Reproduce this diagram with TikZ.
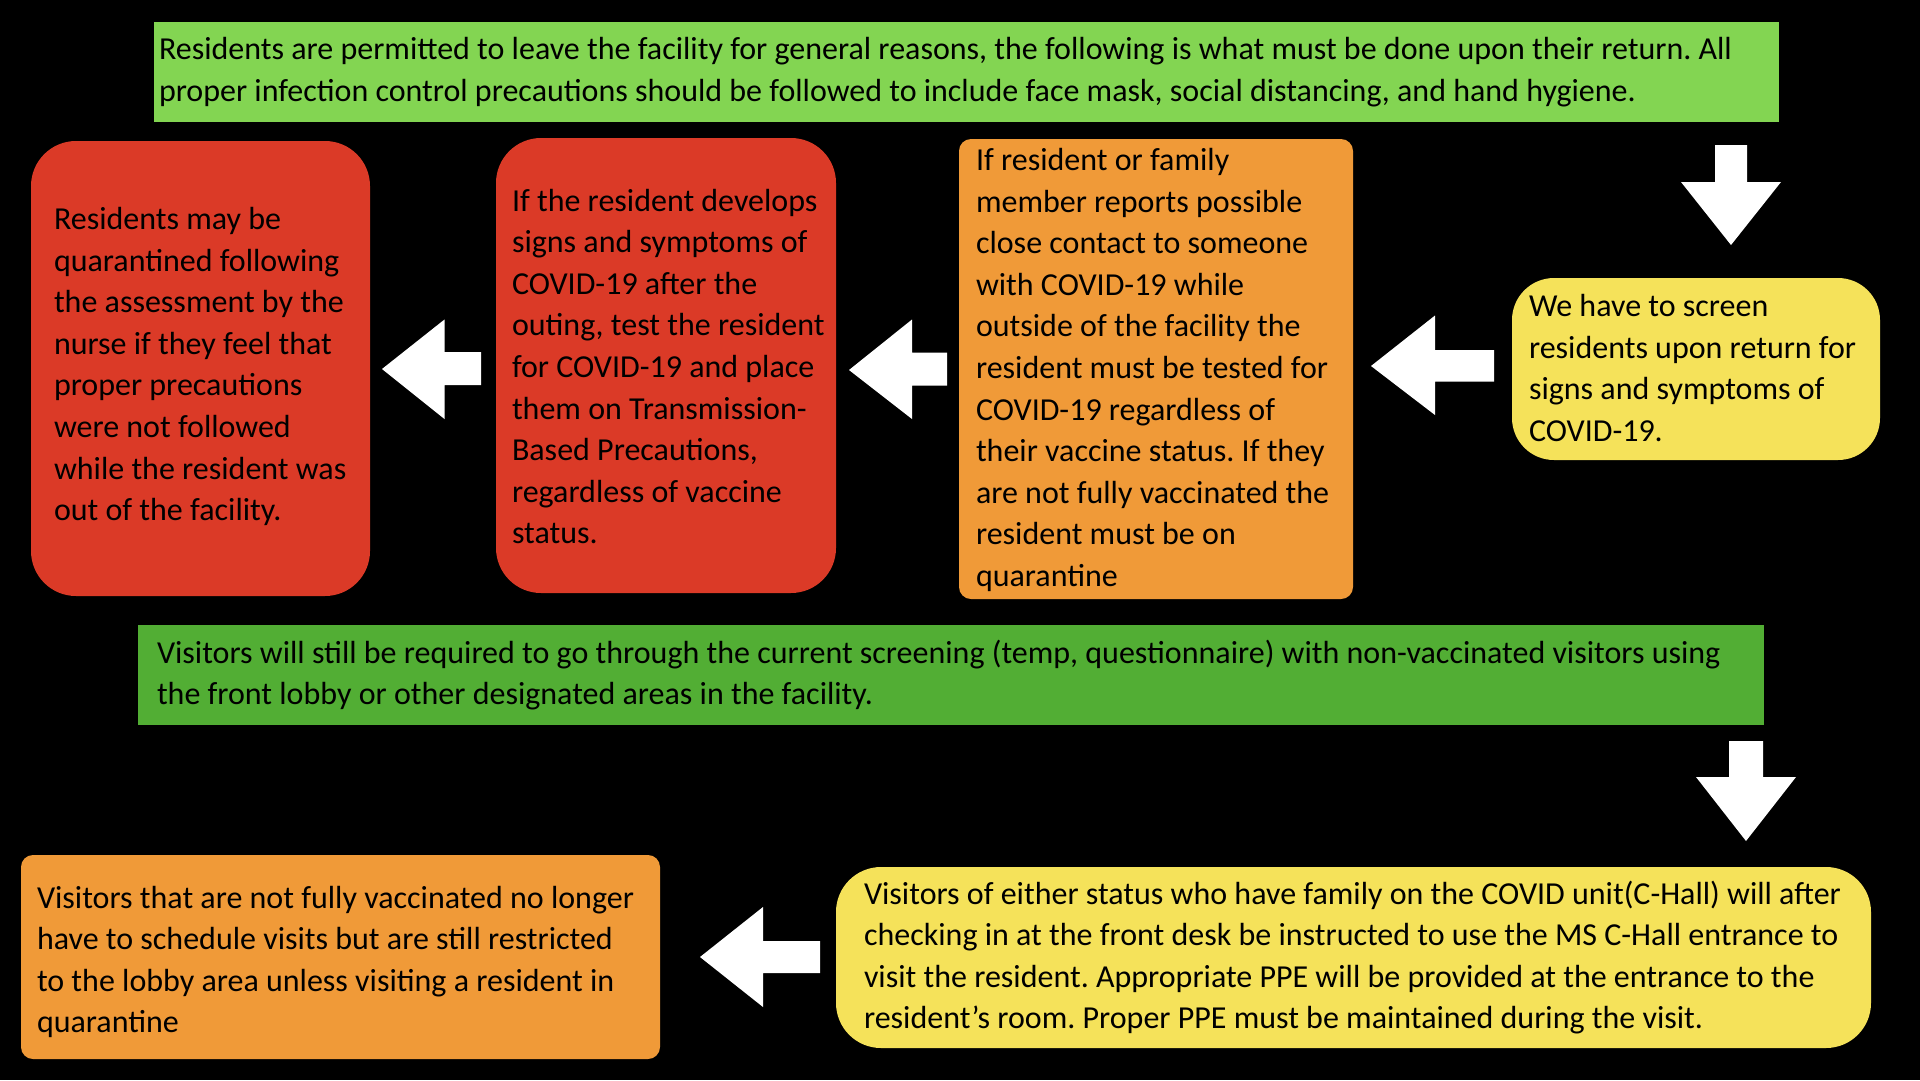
\documentclass[tikz,border=0pt]{standalone}
\usepackage{fontspec}
\setmainfont{Carlito}
\frenchspacing
\definecolor{lgreen}{RGB}{131,213,82}
\definecolor{dgreen}{RGB}{82,174,52}
\definecolor{redc}{RGB}{219,58,39}
\definecolor{orangec}{RGB}{240,154,56}
\definecolor{yellowc}{RGB}{245,226,90}
\begin{document}
\begin{tikzpicture}[x=1pt,y=-1pt,
  box/.style={inner sep=0pt, outer sep=0pt, anchor=north west, draw=none},
  txt/.style={anchor=west, align=left, inner sep=0pt, outer sep=0pt, font=\fontsize{32}{41.6}\selectfont, text=black},
  blockarrow/.style={fill=white, draw=none}]
\fill[black] (0,0) rectangle (1920,1080);
\useasboundingbox (0,0) rectangle (1920,1080);

% boxes
\node[box, fill=lgreen, minimum width=1625pt, minimum height=100pt] (top) at (154,22) {};
\node[box, fill=redc, rounded corners=45pt, minimum width=339pt, minimum height=455pt] (r1) at (31,141) {};
\node[box, fill=redc, rounded corners=45pt, minimum width=340pt, minimum height=455pt] (r2) at (496,138) {};
\node[box, fill=orangec, rounded corners=12pt, minimum width=394pt, minimum height=460pt] (o1) at (959,139) {};
\node[box, fill=yellowc, rounded corners=42pt, minimum width=368pt, minimum height=182pt] (y1) at (1512,278) {};
\node[box, fill=dgreen, minimum width=1626pt, minimum height=100pt] (g2) at (138,625) {};
\node[box, fill=orangec, rounded corners=12pt, minimum width=639pt, minimum height=204pt] (o2) at (21,855) {};
\node[box, fill=yellowc, rounded corners=45pt, minimum width=1035pt, minimum height=181pt] (y2) at (836,867) {};

% texts
\node[txt] (topt) at ([xshift=5pt]top.west) {Residents are permitted to leave the facility for general reasons, the following is what must be done upon their return. All\\proper infection control precautions should be followed to include face mask, social distancing, and hand hygiene.};
\node[txt] (r1t) at ([xshift=23pt,yshift=2pt]r1.west) {Residents may be\\quarantined following\\the assessment by the\\nurse if they feel that\\proper precautions\\were not followed\\while the resident was\\out of the facility.};
\node[txt] (r2t) at ([xshift=16pt,yshift=-1pt]r2.west) {If the resident develops\\signs and symptoms of\\COVID-19 after the\\outing, test the resident\\for COVID-19 and place\\them on Transmission-\\Based Precautions,\\regardless of vaccine\\status.};
\node[txt] (o1t) at ([xshift=17pt,yshift=-1pt]o1.west) {If resident or family\\member reports possible\\close contact to someone\\with COVID-19 while\\outside of the facility the\\resident must be tested for\\COVID-19 regardless of\\their vaccine status. If they\\are not fully vaccinated the\\resident must be on\\quarantine};
\node[txt] (y1t) at ([xshift=17pt,yshift=1pt]y1.west) {We have to screen\\residents upon return for\\signs and symptoms of\\COVID-19.};
\node[txt] (g2t) at ([xshift=19pt]g2.west) {Visitors will still be required to go through the current screening (temp, questionnaire) with non-vaccinated visitors using\\the front lobby or other designated areas in the facility.};
\node[txt] (o2t) at ([xshift=16pt,yshift=-5pt]o2.west) {Visitors that are not fully vaccinated no longer\\have to schedule visits but are still restricted\\to the lobby area unless visiting a resident in\\quarantine};
\node[txt] (y2t) at ([xshift=28pt]y2.west) {Visitors of either status who have family on the COVID unit(C-Hall) will after\\checking in at the front desk be instructed to use the MS C-Hall entrance to\\visit the resident. Appropriate PPE will be provided at the entrance to the\\resident’s room. Proper PPE must be maintained during the visit.};

% block arrows
\fill[blockarrow] (1715,145) -- (1747,145) -- (1747,182) -- (1781,182) -- (1731,245) -- (1681,182) -- (1715,182) -- cycle;
\fill[blockarrow] (1371,366) -- (1435,315.5) -- (1435,350) -- (1494,350) -- (1494,381.5) -- (1435,381.5) -- (1435,415) -- cycle;
\fill[blockarrow] (849,370) -- (912,319.5) -- (912,352.7) -- (947,352.7) -- (947,385.5) -- (912,385.5) -- (912,419) -- cycle;
\fill[blockarrow] (382,369) -- (444.5,319.5) -- (444.5,352) -- (481,352) -- (481,385) -- (444.5,385) -- (444.5,419) -- cycle;
\fill[blockarrow] (1729,741) -- (1763,741) -- (1763,777) -- (1796,777) -- (1746,841) -- (1696,777) -- (1729,777) -- cycle;
\fill[blockarrow] (700,957) -- (763,907) -- (763,941) -- (820,941) -- (820,973) -- (763,973) -- (763,1007) -- cycle;
\end{tikzpicture}
\end{document}
